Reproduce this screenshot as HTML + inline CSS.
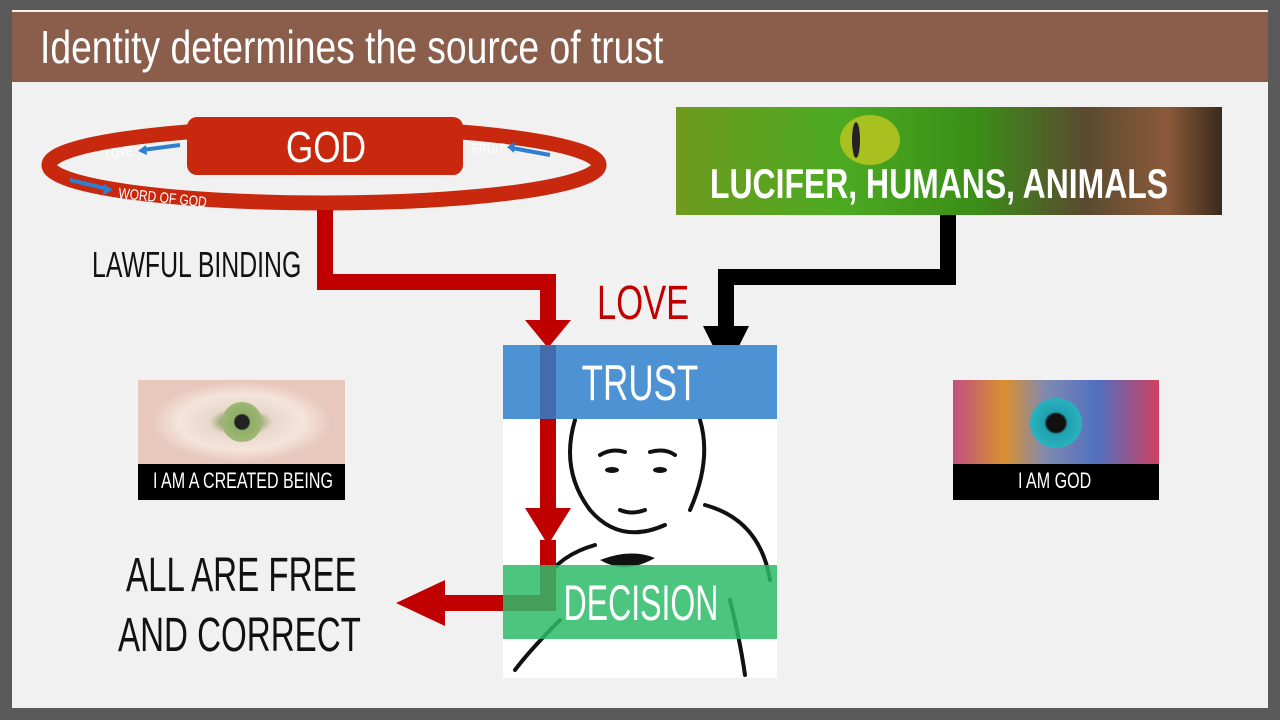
<!DOCTYPE html>
<html><head><meta charset="utf-8"><style>
body{margin:0;width:1280px;height:720px;overflow:hidden;background:#5a5a5a;font-family:"Liberation Sans",sans-serif}
.page{position:absolute;left:12px;top:10px;width:1256px;height:698px;background:#f1f1f1}
.t{position:absolute;white-space:nowrap;transform-origin:0 0}
</style></head><body>
<div class="page"></div>
<div style="position:absolute;left:12px;top:12px;width:1256px;height:70px;background:#8a5e4b"></div>
<div class="t" style="left:40px;top:20px;font-size:46px;color:#fff;transform:scaleX(0.81)">Identity determines the source of trust</div>

<svg width="1280" height="720" style="position:absolute;left:0;top:0">
 <ellipse cx="324" cy="165" rx="275" ry="38" fill="none" stroke="#c8280e" stroke-width="15"/>
 <rect x="187" y="117" width="276" height="58" rx="10" fill="#c8280e"/>
 <text x="326" y="162" font-size="44" fill="#fff" text-anchor="middle" transform="translate(326 0) scale(0.8 1) translate(-326 0)">GOD</text>
 <text x="106" y="159" font-size="13" fill="#fff" transform="rotate(-8 106 159) translate(106 0) scale(0.8 1) translate(-106 0)">LOVE</text>
 <line x1="180" y1="145" x2="142" y2="150" stroke="#2f7fd0" stroke-width="4"/>
 <polygon points="138,151 146,145 147,155" fill="#2f7fd0"/>
 <text x="472" y="153" font-size="14" fill="#fff" transform="translate(472 0) scale(0.8 1) translate(-472 0)">FRUIT</text>
 <line x1="550" y1="155" x2="512" y2="148" stroke="#2f7fd0" stroke-width="4"/>
 <polygon points="507,147 515,142 514,153" fill="#2f7fd0"/>
 <line x1="70" y1="180" x2="108" y2="189" stroke="#2f7fd0" stroke-width="4"/>
 <polygon points="113,190 104,184 103,195" fill="#2f7fd0"/>
 <text x="118" y="198" font-size="15" fill="#fff" transform="rotate(6 118 198) translate(118 0) scale(0.8 1) translate(-118 0)">WORD OF GOD</text>

 <polyline points="325,210 325,282 548,282 548,322" fill="none" stroke="#c00000" stroke-width="16"/>
 <polygon points="525,320 571,320 548,348" fill="#c00000"/>
 <polyline points="948,214 948,277 726,277 726,328" fill="none" stroke="#000" stroke-width="16"/>
 <polygon points="703,326 749,326 726,372" fill="#000"/>

 <rect x="503" y="345" width="274" height="333" fill="#fff"/>
 <g fill="none" stroke="#111" stroke-width="4" stroke-linecap="round">
  <path d="M575 420 Q560 470 590 510 Q620 545 665 525"/>
  <path d="M700 420 Q712 460 690 510"/>
  <path d="M600 455 Q612 448 625 452 M650 452 Q665 448 675 455"/>
  <path d="M620 510 Q632 515 645 510"/>
  <path d="M705 505 Q760 520 770 580"/>
  <path d="M545 580 Q560 555 595 545"/>
  <path d="M560 620 Q530 650 515 670 M730 600 Q740 640 745 675"/>
 </g>
 <ellipse cx="612" cy="470" rx="7" ry="3" fill="#111"/><ellipse cx="660" cy="470" rx="7" ry="3" fill="#111"/>
 <path d="M600 560 Q630 548 655 558 Q625 575 600 560Z" fill="#111"/>

 <polyline points="548,345 548,510" fill="none" stroke="#c00000" stroke-width="16"/>
 <polygon points="525,508 571,508 548,545" fill="#c00000"/>
 <polyline points="548,540 548,603 440,603" fill="none" stroke="#c00000" stroke-width="16"/>
 <polygon points="445,580 445,626 396,603" fill="#c00000"/>

 <rect x="503" y="345" width="274" height="74" fill="#2e7fcb" opacity="0.85"/>
 <rect x="503" y="565" width="274" height="74" fill="#2dbb68" opacity="0.85"/>
 <text x="640" y="400" font-size="50" fill="#fff" text-anchor="middle" transform="translate(640 0) scale(0.7 1) translate(-640 0)">TRUST</text>
 <text x="641" y="620" font-size="50" fill="#fff" text-anchor="middle" transform="translate(641 0) scale(0.64 1) translate(-641 0)">DECISION</text>
</svg>

<div class="t" style="left:92px;top:244px;font-size:36px;color:#111;transform:scaleX(0.69)">LAWFUL BINDING</div>
<div class="t" style="left:597px;top:276px;font-size:48px;color:#c00000;transform:scaleX(0.72)">LOVE</div>
<div class="t" style="left:126px;top:548px;font-size:48px;color:#111;transform:scaleX(0.69)">ALL ARE FREE</div>
<div class="t" style="left:118px;top:608px;font-size:48px;color:#111;transform:scaleX(0.69)">AND CORRECT</div>

<div style="position:absolute;left:676px;top:107px;width:546px;height:108px;background:linear-gradient(90deg,#6f9a1e 0%,#4caa22 30%,#3b8e18 55%,#5a4a30 75%,#8a5a3a 90%,#3a2a1c 100%)"></div>
<div style="position:absolute;left:840px;top:115px;width:60px;height:50px;border-radius:50%;background:#a8c020"></div>
<div style="position:absolute;left:852px;top:122px;width:8px;height:36px;border-radius:50%;background:#222"></div>
<div class="t" style="left:710px;top:160px;font-size:42px;font-weight:bold;color:#fff;transform:scaleX(0.76)">LUCIFER, HUMANS, ANIMALS</div>

<div style="position:absolute;left:138px;top:380px;width:207px;height:84px;background:radial-gradient(ellipse 90px 40px at 103px 42px,#c9d8a0 0%,#8a9f60 18%,#e8d8cc 35%,#f4e4da 70%,#e8c8bc 100%)"></div>
<div style="position:absolute;left:222px;top:402px;width:40px;height:40px;border-radius:50%;background:radial-gradient(#222 25%,#8fae66 30%,#a8bd80 100%)"></div>
<div style="position:absolute;left:138px;top:464px;width:207px;height:36px;background:#000"></div>
<div class="t" style="left:153px;top:468px;font-size:22px;color:#fff;transform:scaleX(0.73)">I AM A CREATED BEING</div>

<div style="position:absolute;left:953px;top:380px;width:206px;height:84px;background:linear-gradient(90deg,#c05080,#d89030 25%,#808ab0 45%,#5070c0 70%,#d04060 100%)"></div>
<div style="position:absolute;left:1030px;top:398px;width:52px;height:50px;border-radius:50%;background:radial-gradient(#111 25%,#20a0b0 32%,#30c0c8 100%)"></div>
<div style="position:absolute;left:953px;top:464px;width:206px;height:36px;background:#000"></div>
<div class="t" style="left:1018px;top:468px;font-size:22px;color:#fff;transform:scaleX(0.73)">I AM GOD</div>
</body></html>
